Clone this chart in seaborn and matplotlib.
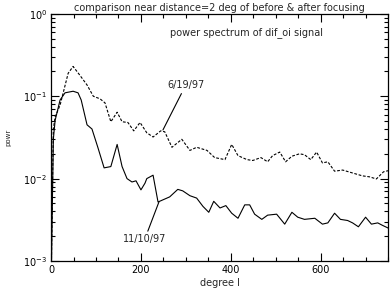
import numpy as np
import pandas as pd
import matplotlib
matplotlib.use("Agg")
import matplotlib.pyplot as plt
import seaborn as sns
from matplotlib.ticker import LogLocator, MultipleLocator, NullFormatter

# degree l and power for the two dates
deg_1110 = [0, 5, 9, 20, 31, 49, 60, 67, 80, 91, 104, 118, 133, 147, 158, 169, 180, 189, 200, 209,
            213, 227, 238, 264, 282, 293, 309, 324, 338, 351, 362, 376, 389, 402, 416, 431, 442, 453,
            469, 482, 502, 520, 536, 549, 564, 587, 604, 616, 631, 644, 660, 671, 684, 700, 713, 727,
            738, 751]
pow_1110 = [0.0005, 0.03, 0.051, 0.09, 0.11, 0.115, 0.11, 0.09, 0.045, 0.04, 0.024, 0.0135, 0.014,
            0.026, 0.014, 0.010, 0.0091, 0.0094, 0.0073, 0.0088,
            0.010, 0.011, 0.0052, 0.0060, 0.0074, 0.0071, 0.0062, 0.0058, 0.0046, 0.0039, 0.0053,
            0.0044, 0.0047, 0.0038, 0.0033, 0.0048, 0.0048, 0.0037,
            0.0032, 0.0036, 0.0037, 0.0028, 0.0039, 0.0034, 0.0032, 0.0033, 0.0028, 0.0029, 0.0038,
            0.0032, 0.0031, 0.0029, 0.0026, 0.0034, 0.0028, 0.0029, 0.0027, 0.0025]

deg_0619 = [0, 5, 9, 20, 38, 49, 64, 80, 94, 109, 120, 133, 147, 158, 171, 184, 198, 213, 227, 244,
            253, 269, 291, 309, 324, 347, 364, 387, 402, 416, 436, 449, 467, 482, 493, 509, 522, 536,
            553, 564, 578, 591, 604, 616, 631, 649, 671, 693, 709, 724, 740, 751]
pow_0619 = [0.0005, 0.04, 0.056, 0.078, 0.19, 0.23, 0.18, 0.137, 0.10, 0.093, 0.083, 0.049, 0.064,
            0.049, 0.048, 0.038, 0.048, 0.036, 0.032, 0.038,
            0.037, 0.024, 0.030, 0.022, 0.024, 0.022, 0.018, 0.017, 0.026, 0.019, 0.017, 0.0166,
            0.018, 0.016, 0.019, 0.021, 0.016, 0.0187,
            0.020, 0.0195, 0.017, 0.021, 0.0155, 0.016, 0.0123, 0.0127, 0.0117, 0.0108, 0.0105,
            0.0099, 0.0121, 0.0125]

x_ticks = [0, 200, 400, 600]

df = pd.concat([
    pd.DataFrame({"degree": deg_1110, "power": pow_1110, "date": "11/10/97"}),
    pd.DataFrame({"degree": deg_0619, "power": pow_0619, "date": "6/19/97"}),
])

sns.set_style("ticks")
plt.rcParams["font.family"] = ["DejaVu Sans"]
plt.rcParams["mathtext.fontset"] = "dejavusans"

fig = plt.figure(figsize=(3.9, 2.89), dpi=100)
ax = fig.add_axes([0.131, 0.097, 0.864, 0.855])

sns.lineplot(data=df, x="degree", y="power", style="date",
             dashes={"11/10/97": "", "6/19/97": (2.5, 1.5)},
             color="black", linewidth=0.8, legend=False, ax=ax, sort=False)

ax.set_yscale("log")
ax.set_xlim(0, 750)
ax.set_ylim(1e-3, 1)
ax.set_xticks(x_ticks)
ax.xaxis.set_minor_locator(MultipleLocator(50))
ax.yaxis.set_major_locator(LogLocator(base=10, numticks=10))
ax.yaxis.set_minor_locator(LogLocator(base=10, subs=np.arange(2, 10), numticks=10))
ax.yaxis.set_minor_formatter(NullFormatter())
ax.tick_params(which="both", direction="in", top=True, right=True, labelsize=7, width=0.8,
               colors="black")
ax.tick_params(which="major", length=6, pad=3)
ax.tick_params(which="minor", length=3)
for s in ax.spines.values():
    s.set_linewidth(0.9)
    s.set_color("black")

ax.set_xlabel("degree l", fontsize=7, labelpad=2)
ax.set_ylabel("powr", fontsize=5, labelpad=8)
ax.set_title("comparison near distance=2 deg of before & after focusing", fontsize=7, pad=2)

ax.text(264, 0.59, "power spectrum of dif_oi signal", fontsize=7, ha="left", va="center")
ax.annotate("6/19/97", xy=(249, 0.039), xytext=(258, 0.118), fontsize=7,
            ha="left", va="bottom",
            arrowprops=dict(arrowstyle="-", color="black", lw=0.8, shrinkA=0, shrinkB=0))
ax.annotate("11/10/97", xy=(240, 0.0052), xytext=(160, 0.0021), fontsize=7,
            ha="left", va="top",
            arrowprops=dict(arrowstyle="-", color="black", lw=0.8, shrinkA=0, shrinkB=0))

fig.savefig("out.png", dpi=100)
